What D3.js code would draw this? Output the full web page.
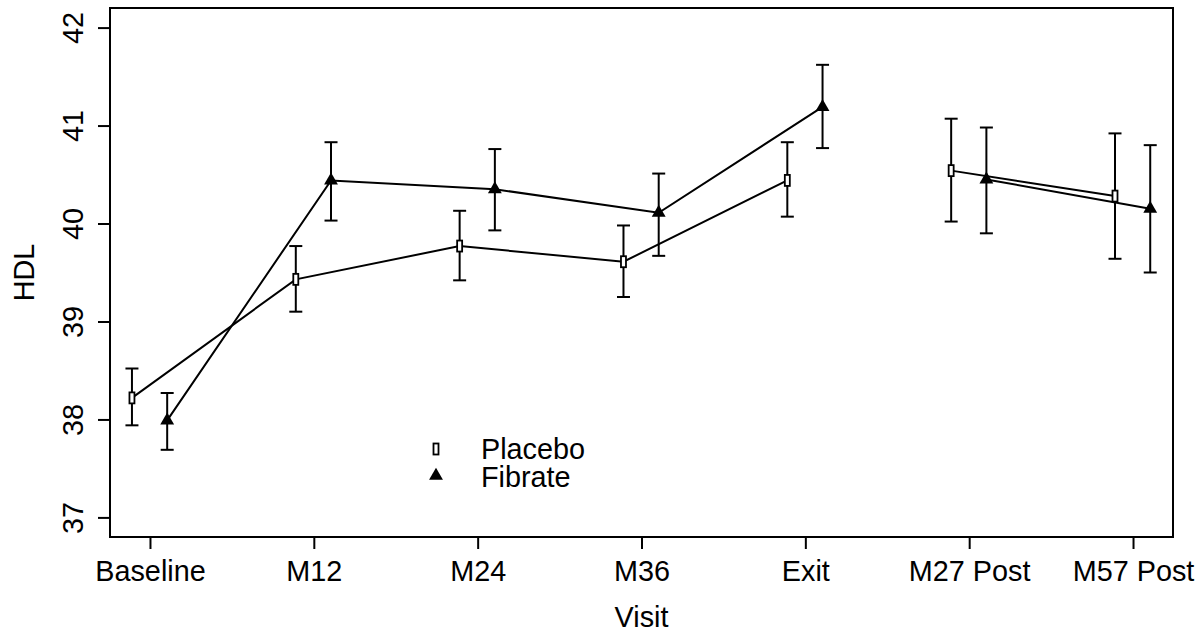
<!DOCTYPE html>
<html>
<head>
<meta charset="utf-8">
<script src="https://cdn.jsdelivr.net/npm/d3@7"></script>
<style>
  body { margin: 0; background: #fff; }
  svg text { font-family: "Liberation Sans", Arial, sans-serif; font-size: 28.8px; fill: #000; }
</style>
</head>
<body>
<svg id="chart"></svg>
<script>
const width = 1202;
const height = 633;

// data
const visits = ["Baseline", "M12", "M24", "M36", "Exit", "M27 Post", "M57 Post"];
const placeboMean  = [38.22, 39.43, 39.77, 39.61, 40.44, 40.54, 40.28];
const placeboLower = [37.94, 39.10, 39.42, 39.25, 40.07, 40.02, 39.64];
const placeboUpper = [38.52, 39.77, 40.13, 39.98, 40.83, 41.07, 40.92];
const fibrateMean  = [37.99, 40.44, 40.35, 40.11, 41.19, 40.45, 40.15];
const fibrateLower = [37.69, 40.03, 39.93, 39.67, 40.77, 39.90, 39.50];
const fibrateUpper = [38.27, 40.83, 40.76, 40.51, 41.62, 40.98, 40.80];
const yTicks = [37, 38, 39, 40, 41, 42];
// during-study visits and post-study visits are joined separately
const segments = [[0, 1, 2, 3, 4], [5, 6]];

const svg = d3.select("#chart")
  .attr("width", width)
  .attr("height", height);

const box = { left: 110, right: 1173, top: 8, bottom: 537 };

const x = d3.scaleLinear()
  .domain([0.756, 7.244])
  .range([box.left, box.right]);

const y = d3.scaleLinear()
  .domain([36.8, 42.2])
  .range([box.bottom, box.top]);

const series = [
  { name: "Placebo", shape: "rect", offset: -0.11, mean: placeboMean, lo: placeboLower, hi: placeboUpper },
  { name: "Fibrate", shape: "tri", offset: 0.105, mean: fibrateMean, lo: fibrateLower, hi: fibrateUpper }
];

// frame
svg.append("rect")
  .attr("x", box.left).attr("y", box.top)
  .attr("width", box.right - box.left).attr("height", box.bottom - box.top)
  .attr("fill", "none").attr("stroke", "#000").attr("stroke-width", 2);

// x axis
const xAxis = d3.axisBottom(x)
  .tickValues(d3.range(1, visits.length + 1))
  .tickFormat(d => visits[d - 1])
  .tickSize(12)
  .tickPadding(6);

const xAxisG = svg.append("g")
  .attr("transform", `translate(0,${box.bottom})`)
  .call(xAxis);
xAxisG.select(".domain").remove();
xAxisG.selectAll("line").attr("stroke-width", 2);
xAxisG.selectAll("text")
  .attr("dy", null)
  .attr("y", 44);
xAxisG.attr("font-size", null).attr("font-family", null);

// y axis, labels turned like R's las=0
const yAxis = d3.axisLeft(y)
  .tickValues(yTicks)
  .tickFormat(d3.format("d"))
  .tickSize(12);
const yAxisG = svg.append("g")
  .attr("transform", `translate(${box.left},0)`)
  .call(yAxis);
yAxisG.select(".domain").remove();
yAxisG.selectAll("line").attr("stroke-width", 2);
yAxisG.attr("font-size", null).attr("font-family", null);
yAxisG.selectAll("text")
  .attr("x", null).attr("dy", null)
  .attr("transform", `translate(${82.7 - box.left},0) rotate(-90)`)
  .attr("text-anchor", "middle");

// axis titles
svg.append("text")
  .attr("x", (box.left + box.right) / 2)
  .attr("y", 627)
  .attr("text-anchor", "middle")
  .text("Visit");

svg.append("text")
  .attr("transform", `translate(34.3,${(box.top + box.bottom) / 2}) rotate(-90)`)
  .attr("text-anchor", "middle")
  .text("HDL");

// marker shapes
function triPath(r) {
  const xc = r * Math.sqrt(3) / 2;
  return `M0,${-r}L${xc},${r / 2}L${-xc},${r / 2}Z`;
}
function drawMarker(g, shape, cx, cy) {
  if (shape === "rect") {
    g.append("rect")
      .attr("x", cx - 2.5).attr("y", cy - 5.5)
      .attr("width", 5).attr("height", 11)
      .attr("fill", "#fff").attr("stroke", "#000").attr("stroke-width", 1.8);
  } else {
    g.append("path")
      .attr("d", triPath(8))
      .attr("transform", `translate(${cx},${cy})`)
      .attr("fill", "#000");
  }
}

const line = d3.line()
  .x(d => d.x)
  .y(d => d.y);

series.forEach(s => {
  const g = svg.append("g").attr("class", "series");
  const pts = s.mean.map((m, i) => ({ x: x(i + 1 + s.offset), y: y(m), lo: y(s.lo[i]), hi: y(s.hi[i]) }));

  // error bars
  pts.forEach(p => {
    g.append("line")
      .attr("x1", p.x).attr("x2", p.x).attr("y1", p.lo).attr("y2", p.hi)
      .attr("stroke", "#000").attr("stroke-width", 2);
    [p.lo, p.hi].forEach(cy => {
      g.append("line")
        .attr("x1", p.x - 6.5).attr("x2", p.x + 6.5).attr("y1", cy).attr("y2", cy)
        .attr("stroke", "#000").attr("stroke-width", 2);
    });
  });

  // connecting lines
  segments.forEach(seg => {
    g.append("path")
      .attr("d", line(seg.map(i => pts[i])))
      .attr("fill", "none").attr("stroke", "#000").attr("stroke-width", 2);
  });

  pts.forEach(p => drawMarker(g, s.shape, p.x, p.y));
});

// legend
const legend = svg.append("g");
series.forEach((s, i) => {
  const ly = 449 + i * 27.7;
  drawMarker(legend, s.shape, 436, ly + (s.shape === "tri" ? -1 : 0));
  legend.append("text")
    .attr("x", 481)
    .attr("y", ly + 10.3)
    .text(s.name);
});
</script>
</body>
</html>
